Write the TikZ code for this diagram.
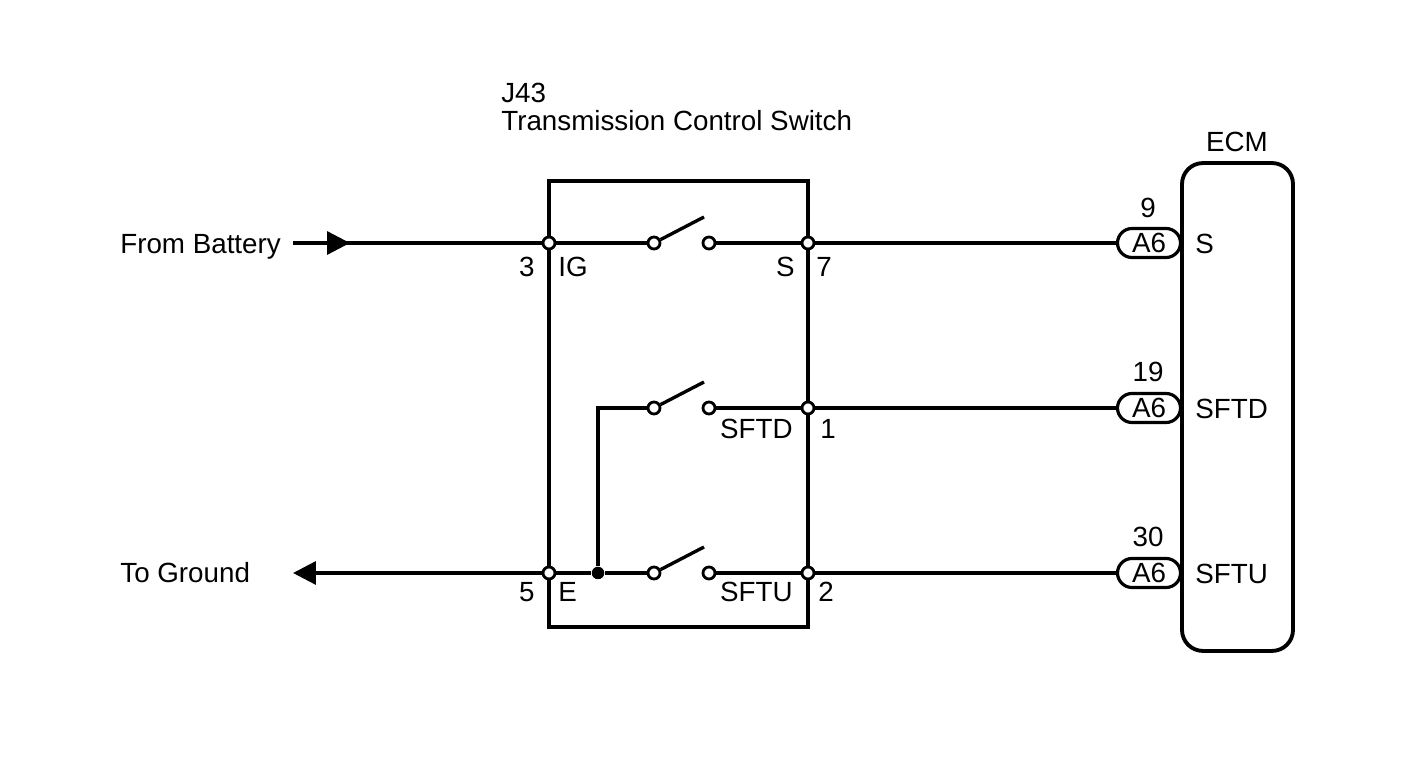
\documentclass[tikz,border=0pt]{standalone}
\usepackage{fontspec}
\setmainfont{Liberation Sans}
\usetikzlibrary{arrows.meta,positioning,shapes.misc}
\tikzset{
	every node/.style={font=\fontsize{15.8}{19}\selectfont},
	wire/.style={line width=1.9pt},
	body/.style={draw, line width=2.2pt},
	term/.style={circle, draw, fill=white, line width=1.6pt, minimum size=0.24cm, inner sep=0pt},
	joint/.style={circle, fill, minimum size=0.25cm, inner sep=0pt},
	pin/.style={rounded rectangle, draw, fill=white, line width=1.8pt, minimum width=1.26cm, minimum height=0.58cm, inner sep=0pt},
	lbl/.style={inner sep=0pt},
	tip/.style={-{Triangle[length=0.46cm, width=0.46cm]}},
}

\begin{document}
\begin{tikzpicture}[x=0.02cm, y=-0.02cm]
	\useasboundingbox (0,0) rectangle (1424,759);

	% switch body and ECM
	\node[body, minimum width=5.18cm, minimum height=8.92cm] (tcs) at (678.5,404) {};
	\node[body, rounded corners=0.42cm, minimum width=2.22cm, minimum height=9.76cm] (ecm) at (1237.5,407) {};

	% terminals
	\node[term] (t3) at (549,243) {};
	\node[term] (t7) at (808,243) {};
	\node[term] (t1) at (808,408) {};
	\node[term] (t5) at (549,573) {};
	\node[term] (t2) at (808,573) {};
	\node[joint] (jn) at (598,573) {};

	% switches
	\foreach \row/\y in {s/243, d/408, u/573} {
		\node[term] (in\row) at (654,\y) {};
		\node[term] (out\row) at (709,\y) {};
		\coordinate (tip\row) at (704,\y-26);
		\draw[wire] (in\row) -- (tip\row);
	}

	\node[pin] (p9) at (1149,243) {A6};
	\node[pin] (p19) at (1149,408) {A6};
	\node[pin] (p30) at (1149,573) {A6};

	\coordinate (batt) at (293,243);
	\coordinate (battTip) at (350,243);
	\coordinate (gnd) at (293,573);

	\draw[wire] (batt) -- (t3)
		(t3) -- (ins) (outs) -- (t7)
		(jn) |- (ind) (outd) -- (t1)
		(t5) -- (jn) -- (inu) (outu) -- (t2)
		(t7) -- (p9) (t1) -- (p19) (t2) -- (p30);
	\draw[wire, tip] (batt) -- (battTip);
	\draw[wire, tip] (t5) -- (gnd);

	% labels
	\node[lbl, anchor=base west] (ttl) at (501,103) {J43};
	\node[lbl, anchor=base west] (ttl2) at (501,131) {Transmission Control Switch};
	\node[lbl, anchor=base west] (fb) at (120,254) {From Battery};
	\node[lbl, anchor=base west] (tg) at (120,583) {To Ground};
	\node[lbl, anchor=base] (ecmt) at (1237,152) {ECM};

	\node[lbl, anchor=base east] (l3) at (535,277) {3};
	\node[lbl, anchor=base west] (lig) at (558,277) {IG};
	\node[lbl, anchor=base east] (ls) at (795,277) {S};
	\node[lbl, anchor=base west] (l7) at (816,277) {7};
	\node[lbl, anchor=base east] (lsd) at (793,439) {SFTD};
	\node[lbl, anchor=base west] (l1) at (820,439) {1};
	\node[lbl, anchor=base east] (l5) at (535,602) {5};
	\node[lbl, anchor=base west] (le) at (558,602) {E};
	\node[lbl, anchor=base east] (lsu) at (793,602) {SFTU};
	\node[lbl, anchor=base west] (l2) at (818,602) {2};

	\node[lbl, anchor=base] (n9) at (1148,218) {9};
	\node[lbl, anchor=base] (n19) at (1148,382) {19};
	\node[lbl, anchor=base] (n30) at (1148,547) {30};
	\node[lbl, anchor=base west] (es) at (1195,254) {S};
	\node[lbl, anchor=base west] (ed) at (1195,419) {SFTD};
	\node[lbl, anchor=base west] (eu) at (1195,584) {SFTU};
\end{tikzpicture}
\end{document}
